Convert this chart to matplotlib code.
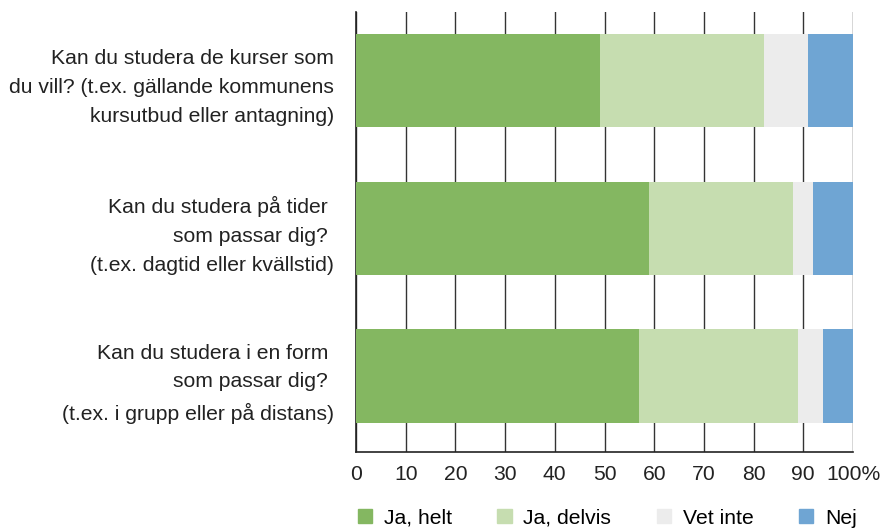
import matplotlib
matplotlib.use("Agg")
import matplotlib.pyplot as plt
import matplotlib.patches as mpatches
import numpy as np

questions = [
    "Kan du studera de kurser som\ndu vill? (t.ex. gällande kommunens\nkursutbud eller antagning)",
    "Kan du studera på tider \nsom passar dig? \n(t.ex. dagtid eller kvällstid)",
    "Kan du studera i en form \nsom passar dig? \n(t.ex. i grupp eller på distans)",
]
series_names = ["Ja, helt", "Ja, delvis", "Vet inte", "Nej"]
ja_helt = [49, 59, 57]
ja_delvis = [33, 29, 32]
vet_inte = [9, 4, 5]
nej = [9, 8, 6]
x_ticks = [0, 10, 20, 30, 40, 50, 60, 70, 80, 90, 100]
x_ticklabels = ["0", "10", "20", "30", "40", "50", "60", "70", "80", "90", "100%"]

COLORS = ["#84b761", "#c6ddb0", "#ececec", "#6fa5d3"]
FONT = "Liberation Sans"
FS = 15.2

plt.rcParams["font.family"] = FONT

fig = plt.figure(figsize=(8.81, 5.28), dpi=100)
ax = fig.add_axes([356 / 881, 1 - 452 / 528, (853 - 356) / 881, (452 - 12) / 528])

y = np.arange(len(questions))
left = np.zeros(len(questions))
for vals, col, name in zip([ja_helt, ja_delvis, vet_inte, nej], COLORS, series_names):
    ax.barh(y, vals, left=left, height=0.63, color=col, label=name, zorder=3)
    left += np.array(vals)

ax.set_xlim(0, 100)
ax.set_ylim(2.514, -0.463)
ax.set_xticks(x_ticks)
ax.set_xticklabels(x_ticklabels, fontsize=FS, color="#222222")
ax.set_yticks(y)
ax.set_yticklabels(questions, fontsize=FS, color="#222222", linespacing=1.66, ha="right")
ax.tick_params(axis="y", length=0, pad=16)
ax.tick_params(axis="x", length=0, pad=9)

ax.grid(axis="x", color="#333333", linewidth=1.0, zorder=0)
for s in ["top", "right"]:
    ax.spines[s].set_visible(False)
ax.spines["left"].set_color("#222222")
ax.spines["bottom"].set_color("#222222")
ax.spines["left"].set_linewidth(1.2)
ax.spines["bottom"].set_linewidth(1.2)

handles = [mpatches.Patch(color=c, label=n) for c, n in zip(COLORS, series_names)]
fig.legend(handles=handles, loc="center left", bbox_to_anchor=(358 / 881, 1 - 518 / 528),
           ncol=4, frameon=False, fontsize=FS, handlelength=0.68, handleheight=0.68,
           handletextpad=0.55, columnspacing=2.15, borderaxespad=0, borderpad=0)

fig.savefig("out.png", dpi=100, facecolor="white")
